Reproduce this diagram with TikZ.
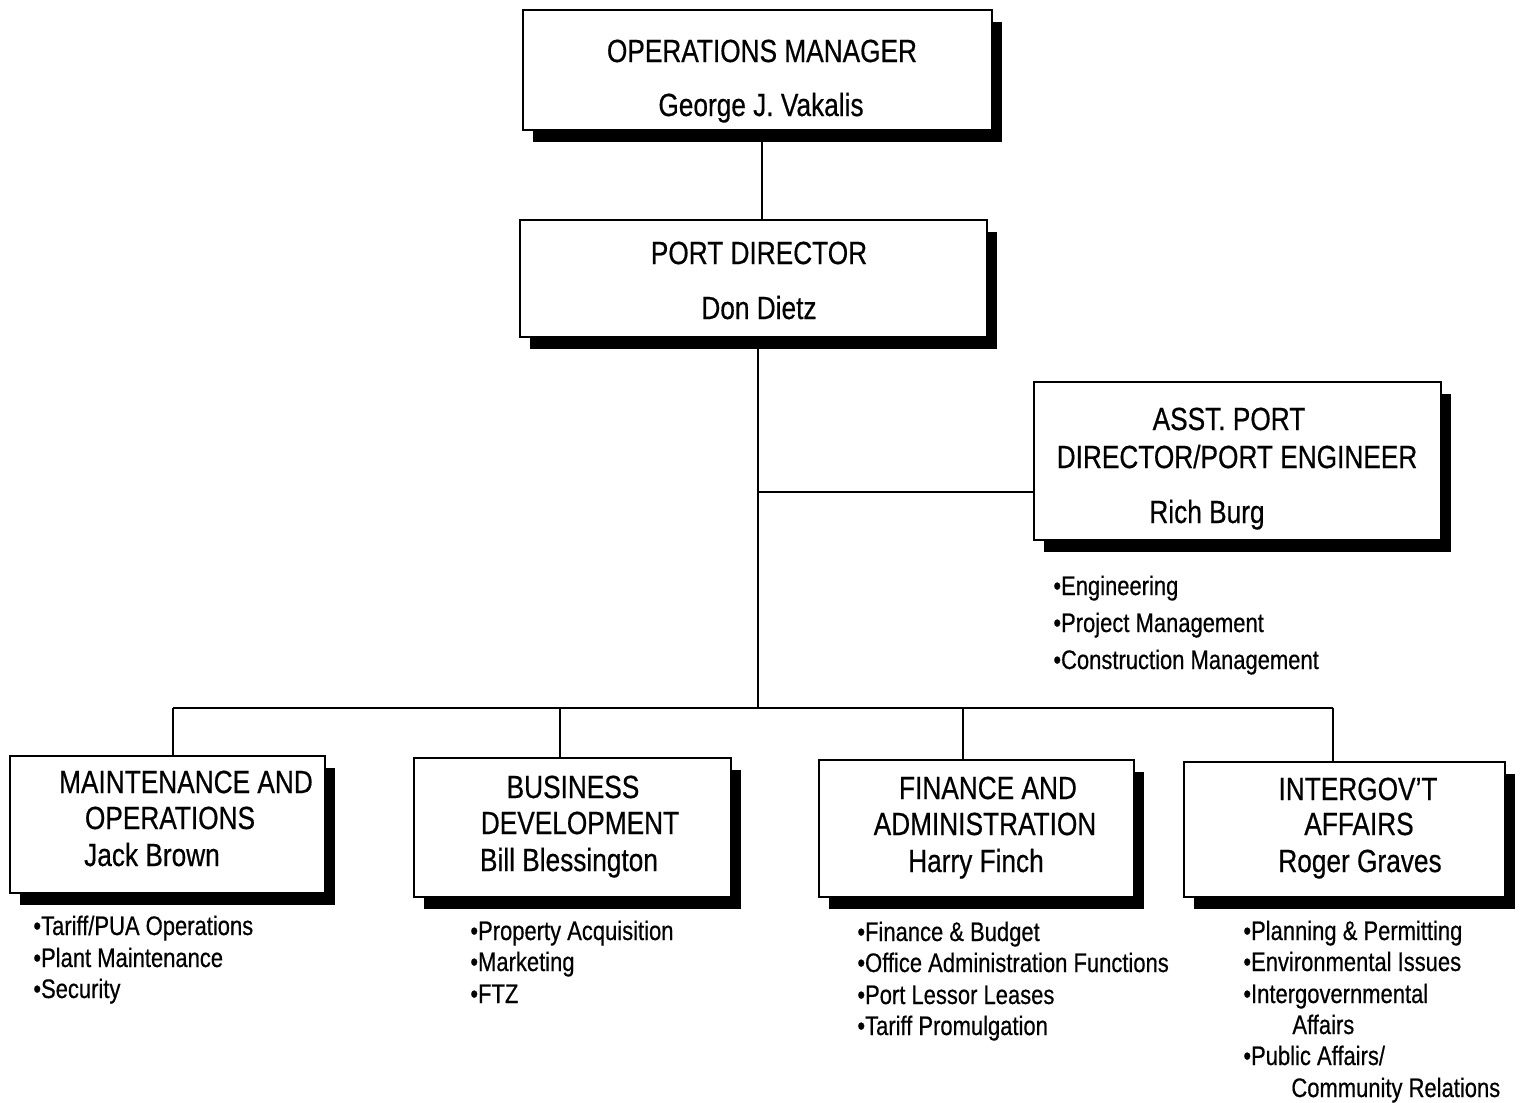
\documentclass[tikz,border=0pt]{standalone}
\usepackage{fontspec}
\setmainfont[FakeStretch=0.82, FakeBold=0.5]{Liberation Sans}
\usetikzlibrary{shadows}
\begin{document}
\begin{tikzpicture}[x=0.5pt,y=-0.5pt,
  orgbox/.style={draw=black, line width=1pt, fill=white, inner sep=0pt,
    drop shadow={shadow xshift=5pt, shadow yshift=-6pt, fill=black, opacity=1}},
  boxtext/.style={anchor=base, font=\fontsize{16}{19}\selectfont, inner sep=0pt},
  duty/.style={anchor=base west, font=\fontsize{13.4}{15}\selectfont, inner sep=0pt},
  link/.style={line width=1pt}]
\useasboundingbox (0,0) rectangle (1523,1103);

% boxes
\node[orgbox, minimum width=234.5pt, minimum height=60pt] (om) at (757.5,70) {};
\node[orgbox, minimum width=233.5pt, minimum height=58.5pt] (pd) at (753.5,278.5) {};
\node[orgbox, minimum width=203.5pt, minimum height=79pt] (apd) at (1237.5,461) {};
\node[orgbox, minimum width=157.5pt, minimum height=68.5pt] (mo) at (167.5,824.5) {};
\node[orgbox, minimum width=158.5pt, minimum height=69.5pt] (bd) at (572.5,827.5) {};
\node[orgbox, minimum width=157.5pt, minimum height=68.5pt] (fa) at (976.5,828.5) {};
\node[orgbox, minimum width=160.5pt, minimum height=67.5pt] (ia) at (1344.5,829.5) {};

% connectors
\coordinate (top) at (762,0);
\draw[link] (top |- om.south) -- (top |- pd.north);
\coordinate (bus) at (758,708);
\coordinate (tap) at (758,492);
\draw[link] (bus |- pd.south) -- (bus);
\draw[link] (tap) -- (tap -| apd.west);
\coordinate (b1) at (173,708);
\coordinate (b2) at (560,708);
\coordinate (b3) at (963,708);
\coordinate (b4) at (1333,708);
\draw[link] (b1) -- (b4);
\draw[link] (b1) -- (b1 |- mo.north);
\draw[link] (b2) -- (b2 |- bd.north);
\draw[link] (b3) -- (b3 |- fa.north);
\draw[link] (b4) -- (b4 |- ia.north);

% box texts
\node[boxtext] (omt) at (762,62) {OPERATIONS MANAGER};
\node[boxtext] (omn) at (761,116) {George J. Vakalis};
\node[boxtext] (pdt) at (759,264) {PORT DIRECTOR};
\node[boxtext] (pdn) at (759,319) {Don Dietz};
\node[boxtext] (apt1) at (1229,430) {ASST. PORT};
\node[boxtext] (apt2) at (1237,468) {DIRECTOR/PORT ENGINEER};
\node[boxtext] (apn) at (1207,523) {Rich Burg};

\node[boxtext] (mot1) at (186,793) {MAINTENANCE AND};
\node[boxtext] (mot2) at (170,829) {OPERATIONS};
\node[boxtext] (mon) at (152,866) {Jack Brown};

\node[boxtext] (bdt1) at (573,798) {BUSINESS};
\node[boxtext] (bdt2) at (580,834) {DEVELOPMENT};
\node[boxtext] (bdn) at (569,871) {Bill Blessington};

\node[boxtext] (fat1) at (988,799) {FINANCE AND};
\node[boxtext] (fat2) at (985,835) {ADMINISTRATION};
\node[boxtext] (fan) at (976,872) {Harry Finch};

\node[boxtext] (iat1) at (1358,800) {INTERGOV'T};
\node[boxtext] (iat2) at (1359,835) {AFFAIRS};
\node[boxtext] (ian) at (1360,872) {Roger Graves};

% duties
\node[duty] (ap1) at (1053,595) {•Engineering};
\node[duty] (ap2) at (1053,632) {•Project Management};
\node[duty] (ap3) at (1053,669) {•Construction Management};

\node[duty] (mo1) at (33,935) {•Tariff/PUA Operations};
\node[duty] (mo2) at (33,967) {•Plant Maintenance};
\node[duty] (mo3) at (33,998) {•Security};

\node[duty] (bd1) at (470,940) {•Property Acquisition};
\node[duty] (bd2) at (470,971) {•Marketing};
\node[duty] (bd3) at (470,1003) {•FTZ};

\node[duty] (fa1) at (857,941) {•Finance \& Budget};
\node[duty] (fa2) at (857,972) {•Office Administration Functions};
\node[duty] (fa3) at (857,1004) {•Port Lessor Leases};
\node[duty] (fa4) at (857,1035) {•Tariff Promulgation};

\node[duty] (ia1) at (1243,940) {•Planning \& Permitting};
\node[duty] (ia2) at (1243,971) {•Environmental Issues};
\node[duty] (ia3) at (1243,1003) {•Intergovernmental};
\node[duty] (ia3b) at (1292,1034) {Affairs};
\node[duty] (ia4) at (1243,1065) {•Public Affairs/};
\node[duty] (ia4b) at (1291,1097) {Community Relations};
\end{tikzpicture}
\end{document}
